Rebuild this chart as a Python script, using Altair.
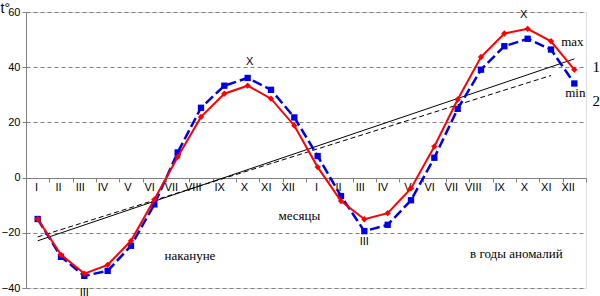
import altair as alt
import pandas as pd

months = ["I", "II", "III", "IV", "V", "VI", "VII", "VIII", "IX", "X", "XI", "XII"] * 2
idx = list(range(24))
red_vals = [-15, -28, -34.8, -31.6, -22.9, -7.9, 7.5, 22, 30.4, 33.3, 28.6, 18.8,
            3.8, -8.5, -15.1, -12.9, -3.9, 11.3, 28.3, 43.7, 52.2, 53.9, 49.4, 39.1]
blue_vals = [-15, -28.7, -35.6, -33.8, -24.7, -9.7, 9.1, 25.3, 33.3, 36.1, 31.8, 21.8,
             7.8, -6.7, -19.4, -17.1, -8.2, 7.2, 24.9, 39.1, 47.6, 50.3, 46.4, 34.1]

trend1_idx = [0, 23]
trend1_vals = [-22.9, 43.0]
trend2_idx = [0, 22]
trend2_vals = [-21.5, 37.0]

ann_text = ["X", "X", "III", "III", "месяцы", "накануне", "в годы аномалий", "max", "min", "1", "2"]
ann_idx = [9, 21, 2, 14, 11, 7, 20, 23, 23, 23, 23]
ann_y = [42, 58.8, -41.7, -23.5, -14, -28.3, -27.5, 49.3, 30.5, 40, 27.6]
ann_dx = [2, -4, 0, 0, 5, -11, 12, -2, 1, 22, 22]
ann_font = ["Liberation Sans", "Liberation Sans", "Liberation Sans", "Liberation Sans",
            "Liberation Serif", "Liberation Serif", "Liberation Serif", "Liberation Serif",
            "Liberation Serif", "Liberation Serif", "Liberation Serif"]
ann_size = [11, 11, 11, 11, 13, 13, 13, 13, 13, 15, 15]

label_map = {str(i): m for i, m in zip(idx, months)}
label_expr = "{" + ",".join(f"'{k}':'{v}'" for k, v in label_map.items()) + "}[datum.value]"

df = pd.DataFrame({"idx": idx, "month": months, "red": red_vals, "blue": blue_vals})
t1 = pd.DataFrame({"idx": trend1_idx, "v": trend1_vals})
t2 = pd.DataFrame({"idx": trend2_idx, "v": trend2_vals})
ann = pd.DataFrame({"text": ann_text, "idx": ann_idx, "y": ann_y, "dx": ann_dx,
                    "font": ann_font, "size": ann_size})

xscale = alt.Scale(domain=idx, paddingInner=0, paddingOuter=0)
yscale = alt.Scale(domain=[-40, 60], nice=False)

x_enc = alt.X("idx:O", scale=xscale, sort=idx, title=None,
              axis=alt.Axis(labelExpr=label_expr, labelAngle=0, orient="bottom", offset=-110,
                            tickBand="extent", domainColor="#808080", tickColor="#808080",
                            tickSize=4, labelPadding=5, labelFont="Liberation Sans",
                            labelFontSize=11, labelColor="#000000", grid=False))
y_enc = alt.Y("red:Q", scale=yscale,
              axis=alt.Axis(values=list(range(-40, 61, 10)), grid=True, gridDash=[4, 3],
                            gridColor="#808080", domainColor="#808080", tickColor="#808080",
                            tickSize=4, labelFont="Liberation Sans", labelFontSize=11,
                            labelColor="#000000", labelPadding=2,
                            title="t°", titleAngle=0, titleX=-26, titleY=-11,
                            titleFont="Liberation Sans", titleFontSize=14,
                            titleFontWeight="normal", titleAlign="left", titleBaseline="top"))

base = alt.Chart(df)

trend1 = alt.Chart(t1).mark_line(color="black", strokeWidth=1).encode(
    x=alt.X("idx:O", scale=xscale, sort=idx), y=alt.Y("v:Q", scale=yscale))
trend2 = alt.Chart(t2).mark_line(color="black", strokeWidth=1, strokeDash=[5, 3]).encode(
    x=alt.X("idx:O", scale=xscale, sort=idx), y=alt.Y("v:Q", scale=yscale))

blue_line = base.mark_line(color="#0000E6", strokeWidth=2.5, strokeDash=[10, 4]).encode(
    x=x_enc, y=alt.Y("blue:Q", scale=yscale))
blue_pts = base.mark_point(shape="square", filled=True, color="#0000E6", size=40, opacity=1).encode(
    x=alt.X("idx:O", scale=xscale, sort=idx), y=alt.Y("blue:Q", scale=yscale))

red_line = base.mark_line(color="#FF0000", strokeWidth=2).encode(
    x=alt.X("idx:O", scale=xscale, sort=idx), y=y_enc)
red_pts = base.mark_point(shape="diamond", filled=True, color="#FF0000", size=40, opacity=1).encode(
    x=alt.X("idx:O", scale=xscale, sort=idx), y=alt.Y("red:Q", scale=yscale))

layers = [trend1, trend2, blue_line, blue_pts, red_line, red_pts]
for i in range(len(ann_text)):
    sub = ann.iloc[[i]]
    layers.append(
        alt.Chart(sub).mark_text(font=ann_font[i], fontSize=ann_size[i], dx=ann_dx[i],
                                 color="black", baseline="middle", align="center").encode(
            x=alt.X("idx:O", scale=xscale, sort=idx),
            y=alt.Y("y:Q", scale=yscale),
            text="text:N")
    )

chart = alt.layer(*layers).properties(
    width=560, height=276,
    autosize=alt.AutoSizeParams(type="none"),
    padding={"left": 26, "top": 12, "right": 14, "bottom": 8},
).configure_view(stroke=None).configure(background="white")

chart.save("out.html", embed_options={"renderer": "svg", "actions": False})
